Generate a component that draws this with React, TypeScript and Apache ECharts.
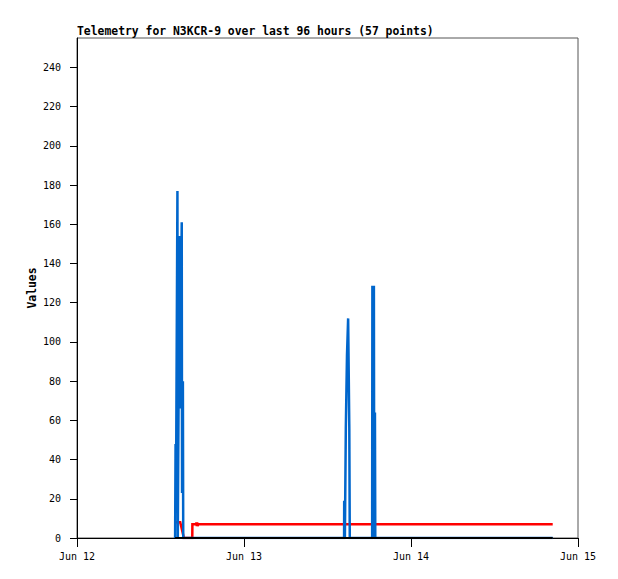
import React, { useEffect, useRef } from "react";
import * as echarts from "echarts";

const TITLE = "Telemetry for N3KCR-9 over last 96 hours (57 points)";
const Y_NAME = "Values";
const DAY_TICKS = ["2024-06-12 00:00", "2024-06-13 00:00", "2024-06-14 00:00", "2024-06-15 00:00"];
const DAY_LABELS = ["Jun 12", "Jun 13", "Jun 14", "Jun 15"];
const Y_TICKS = [0, 20, 40, 60, 80, 100, 120, 140, 160, 180, 200, 220, 240];
const Y_MAX = 255;

const blueTimes = [
  "2024-06-12 14:06", "2024-06-12 14:10", "2024-06-12 14:14", "2024-06-12 14:26", "2024-06-12 14:29",
  "2024-06-12 14:44", "2024-06-12 14:47", "2024-06-12 14:56", "2024-06-12 15:03", "2024-06-12 15:06",
  "2024-06-12 15:13", "2024-06-12 15:16",
  "2024-06-13 14:23", "2024-06-13 14:24", "2024-06-13 14:30", "2024-06-13 14:38", "2024-06-13 14:48",
  "2024-06-13 14:58", "2024-06-13 15:08", "2024-06-13 15:12",
  "2024-06-13 18:25", "2024-06-13 18:27", "2024-06-13 18:40", "2024-06-13 18:43", "2024-06-13 18:49",
  "2024-06-13 18:52", "2024-06-14 20:22",
];
const blueValues = [
  0, 48, 25, 177, 0,
  154, 66, 110, 161, 23,
  80, 0,
  0, 19, 0, 56, 93,
  112, 56, 0,
  0, 128, 128, 0, 64,
  0, 0,
];

const redTimes = [
  "2024-06-12 14:06", "2024-06-12 14:50", "2024-06-12 15:22", "2024-06-12 16:34", "2024-06-12 16:35",
  "2024-06-12 17:08", "2024-06-12 17:10", "2024-06-12 17:13", "2024-06-12 17:16", "2024-06-12 17:19",
  "2024-06-12 17:24", "2024-06-14 20:22",
];
const redValues = [8, 8, 0, 0, 7, 7, 8, 6, 8, 6, 7, 7];

const blackTimes = ["2024-06-12 14:06", "2024-06-14 20:22"];
const blackValues = [0, 0];

function parseTime(s: string): number {
  const [d, t] = s.split(" ");
  const [Y, M, D] = d.split("-").map(Number);
  const [h, mi] = t.split(":").map(Number);
  return new Date(Y, M - 1, D, h, mi).getTime();
}

const ORIGIN = parseTime(DAY_TICKS[0]);
const toHours = (s: string) => (parseTime(s) - ORIGIN) / 3600000;

function pairs(times: string[], values: number[]) {
  return times.map((t, i) => [toHours(t), values[i]]);
}

export default function App() {
  const ref = useRef<HTMLDivElement>(null);
  useEffect(() => {
    if (!ref.current) return;
    const chart = echarts.init(ref.current, null, { renderer: "svg" });
    const dayTicks = DAY_TICKS.map(toHours);
    const mono = "DejaVu Sans Mono";
    const lineSeries = (name: string, data: number[][], color: string, width: number) => ({
      name,
      type: "line",
      data,
      showSymbol: false,
      symbol: "none",
      silent: true,
      lineStyle: { color, width, join: "miter", cap: "butt" },
      itemStyle: { color },
      emphasis: { disabled: true },
    });
    chart.setOption({
      animation: false,
      backgroundColor: "#ffffff",
      title: {
        text: TITLE,
        left: 72,
        top: 20,
        textStyle: { fontFamily: mono, fontSize: 11.4, fontWeight: "bold", color: "#000" },
      },
      grid: {
        left: 77,
        top: 38,
        right: 40,
        bottom: 41,
        show: true,
        borderColor: "#555",
        borderWidth: 1,
        backgroundColor: "transparent",
      },
      xAxis: {
        type: "value",
        min: dayTicks[0],
        max: dayTicks[dayTicks.length - 1],
        interval: 24,
        axisLine: { show: true, lineStyle: { color: "#000", width: 1 } },
        axisTick: { show: true, length: 9, lineStyle: { color: "#000" } },
        axisLabel: {
          margin: 13,
          fontFamily: mono,
          fontSize: 10,
          color: "#000",
          formatter: (v: number) => {
            const i = dayTicks.findIndex((d) => Math.abs(d - v) < 1e-6);
            return i >= 0 ? DAY_LABELS[i] : "";
          },
        },
        splitLine: { show: false },
      },
      yAxis: {
        type: "value",
        min: 0,
        max: Y_MAX,
        name: Y_NAME,
        nameLocation: "middle",
        nameGap: 40,
        nameMoveOverlap: false,
        nameTextStyle: { fontFamily: mono, fontSize: 11.4, fontWeight: "bold", color: "#000" },
        axisLine: { show: true, lineStyle: { color: "#000", width: 1 } },
        axisTick: { show: true, length: 7, customValues: Y_TICKS, lineStyle: { color: "#000" } },
        axisLabel: { customValues: Y_TICKS, margin: 16, fontFamily: mono, fontSize: 10, color: "#000" },
        splitLine: { show: false },
      },
      series: [
        lineSeries("red", pairs(redTimes, redValues), "#ff0000", 2.5),
        lineSeries("blue", pairs(blueTimes, blueValues), "#0066cc", 2.5),
        lineSeries("black", pairs(blackTimes, blackValues), "#000000", 2),
      ],
    });
    return () => chart.dispose();
  }, []);
  return <div ref={ref} style={{ width: 618, height: 579, position: "absolute", left: 0, top: 0 }} />;
}
